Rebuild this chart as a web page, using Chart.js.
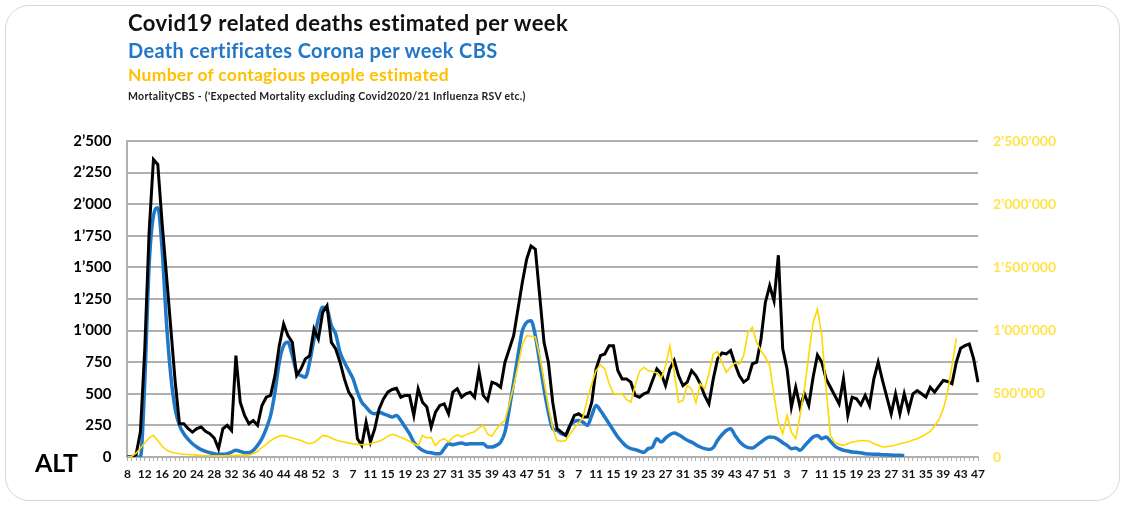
<!DOCTYPE html>
<html>
<head>
<meta charset="utf-8">
<title>Covid19 related deaths estimated per week</title>
<script src="https://cdn.jsdelivr.net/npm/chart.js@4.4.0/dist/chart.umd.min.js"></script>
<style>
  html, body { margin: 0; padding: 0; background: #fff; }
  body { width: 1125px; height: 506px; position: relative; overflow: hidden; font-family: Lato, "Noto Sans", sans-serif; }
  #card { position: absolute; left: 5px; top: 5px; width: 1113px; height: 494px; border: 1.5px solid #d3dbe0; border-radius: 24px; }
  #chartBox { position: absolute; left: 0; top: 0; width: 1125px; height: 506px; }
  .t { position: absolute; left: 128px; white-space: nowrap; font-weight: bold; }
  #t1 { top: 9px; font-size: 22px; letter-spacing: 0.4px; color: #111; }
  #t2 { top: 37.5px; font-size: 20px; letter-spacing: 0.35px; color: #2277c6; }
  #t3 { top: 63.5px; font-size: 17.5px; letter-spacing: 0.27px; color: #ffc000; }
  #t4 { top: 89.5px; font-size: 10.5px; letter-spacing: 0.3px; color: #222; }
  #alt { position: absolute; left: 35px; top: 447px; font-size: 25px; font-weight: bold; color: #000; }
</style>
</head>
<body>
<div id="card"></div>
<div id="chartBox"><canvas id="deathsChart"></canvas></div>
<div class="t" id="t1">Covid19 related deaths estimated per week</div>
<div class="t" id="t2">Death certificates Corona per week CBS</div>
<div class="t" id="t3">Number of contagious people estimated</div>
<div class="t" id="t4">MortalityCBS - ('Expected Mortality excluding Covid2020/21 Influenza RSV etc.)</div>
<div id="alt">ALT</div>
<script>
// week ranges per year: [first week, last week]
const yearWeeks = [[8, 53], [1, 52], [1, 52], [1, 47]];
const weekLabels = [];
yearWeeks.forEach(([a, b]) => { for (let w = a; w <= b; w++) weekLabels.push(String(w)); });

// black: estimated covid19 related deaths per week
const deathsEstimated = [
  0, 0, 20, 200, 850, 1775, 2354, 2315, 1850, 1440,
  1020, 600, 263, 263, 224, 197, 224, 237, 203, 184,
  150, 66, 224, 250, 210, 802, 434, 329, 263, 289,
  250, 408, 473, 487, 644, 881, 1052, 960, 907, 644,
  697, 776, 802, 1012, 934, 1144, 1197, 907, 855, 750,
  618, 513, 460, 145, 92, 276, 118, 224, 381, 460,
  513, 534, 544, 473, 487, 487, 329, 539, 434, 395,
  237, 355, 408, 421, 342, 513, 539, 473, 500, 513,
  473, 684, 487, 447, 592, 579, 552, 750, 855, 960,
  1170, 1381, 1565, 1670, 1644, 1276, 907, 750, 434, 224,
  197, 171, 250, 329, 342, 316, 316, 434, 697, 802,
  815, 881, 881, 684, 618, 618, 592, 487, 473, 500,
  513, 605, 697, 658, 565, 697, 763, 644, 565, 592,
  684, 644, 579, 487, 421, 618, 776, 823, 815, 842,
  736, 644, 592, 618, 736, 750, 934, 1223, 1355, 1236,
  1596, 855, 697, 395, 552, 395, 500, 408, 631, 807,
  750, 618, 552, 487, 421, 618, 329, 473, 460, 413,
  487, 408, 618, 750, 605, 473, 342, 500, 342, 500,
  368, 500, 526, 500, 473, 552, 513, 560, 605, 597,
  579, 750, 860, 881, 894, 776, 592
];

// blue: death certificates corona per week (CBS)
const deathCertificates = [
  0, 0, 0, 0, 592, 1512, 1907, 1972, 1644, 1065,
  644, 381, 250, 184, 139, 105, 79, 58, 45, 34,
  26, 21, 21, 26, 39, 53, 45, 34, 34, 53,
  92, 145, 224, 329, 513, 750, 881, 907, 802, 671,
  644, 631, 750, 934, 1091, 1184, 1170, 1039, 973, 828,
  750, 684, 618, 513, 434, 395, 355, 342, 355, 342,
  329, 316, 329, 289, 237, 184, 118, 79, 53, 39,
  34, 26, 26, 66, 105, 97, 105, 110, 100, 105,
  105, 105, 105, 79, 79, 92, 118, 197, 381, 592,
  802, 999, 1065, 1078, 960, 750, 539, 355, 224, 210,
  184, 176, 250, 281, 289, 276, 250, 329, 408, 368,
  316, 263, 210, 158, 118, 84, 66, 58, 47, 37,
  66, 79, 145, 118, 150, 176, 189, 176, 155, 132,
  118, 97, 79, 66, 60, 74, 132, 176, 210, 224,
  171, 124, 92, 74, 71, 92, 118, 145, 158, 155,
  139, 113, 92, 66, 71, 53, 87, 124, 158, 171,
  145, 158, 124, 87, 66, 53, 47, 39, 37, 34,
  26, 24, 21, 21, 18, 18, 16, 13, 13, 10,
  null, null, null, null, null, null, null, null, null, null,
  null, null, null, null, null, null, null
];

// yellow: estimated number of contagious people (right axis)
const contagiousPeople = [
  0, 5000, 30000, 70000, 110000, 150000, 171000, 130000, 85000, 55000,
  40000, 32000, 26000, 22000, 20000, 18000, 15000, 13000, 12000, 10000,
  10000, 10000, 10000, 12000, 12000, 15000, 14000, 13000, 14000, 25000,
  45000, 75000, 100000, 130000, 150000, 165000, 171000, 160000, 150000, 140000,
  130000, 115000, 105000, 115000, 140000, 171000, 165000, 150000, 135000, 125000,
  118000, 110000, 105000, 100000, 97000, 100000, 105000, 115000, 125000, 140000,
  165000, 180000, 170000, 155000, 140000, 125000, 105000, 90000, 170000, 150000,
  155000, 90000, 130000, 145000, 120000, 155000, 175000, 160000, 175000, 190000,
  200000, 230000, 250000, 180000, 165000, 220000, 260000, 290000, 420000, 560000,
  720000, 890000, 960000, 955000, 950000, 800000, 600000, 400000, 230000, 130000,
  124000, 131000, 184000, 229000, 268000, 316000, 460000, 579000, 684000, 729000,
  697000, 579000, 500000, 500000, 500000, 455000, 434000, 565000, 676000, 710000,
  684000, 676000, 665000, 623000, 720000, 880000, 671000, 434000, 447000, 565000,
  539000, 429000, 579000, 539000, 658000, 815000, 834000, 750000, 671000, 710000,
  744000, 736000, 802000, 986000, 1026000, 907000, 842000, 789000, 723000, 487000,
  276000, 184000, 329000, 197000, 145000, 329000, 539000, 802000, 1065000, 1170000,
  960000, 539000, 171000, 113000, 100000, 92000, 105000, 118000, 124000, 131000,
  129000, 124000, 105000, 92000, 79000, 82000, 87000, 95000, 105000, 113000,
  121000, 134000, 145000, 160000, 181000, 202000, 245000, 297000, 381000, 513000,
  723000, 939000, null, null, null, null, null
];

const leftTicks = [0, 250, 500, 750, 1000, 1250, 1500, 1750, 2000, 2250, 2500];
const rightTicks = [0, 500000, 1000000, 1500000, 2000000, 2500000];

function swissFormat(n) {
  return String(n).replace(/\B(?=(\d{3})+(?!\d))/g, "\u2019");
}

Chart.defaults.font.family = "Lato, 'Noto Sans', sans-serif";
Chart.defaults.color = "#000";

const gridGrey = "#b0b0b0";

new Chart(document.getElementById("deathsChart"), {
  type: "line",
  data: {
    labels: weekLabels,
    datasets: [
      {
        label: "Number of contagious people estimated",
        data: contagiousPeople,
        yAxisID: "y1",
        borderColor: "#ffd800",
        borderWidth: 1.6,
        pointRadius: 0,
        tension: 0,
        order: 0,
      },
      {
        label: "Covid19 related deaths estimated per week",
        data: deathsEstimated,
        yAxisID: "y",
        borderColor: "#000",
        borderWidth: 3,
        pointRadius: 0,
        tension: 0,
        order: 1,
      },
      {
        label: "Death certificates Corona per week CBS",
        data: deathCertificates,
        yAxisID: "y",
        borderColor: "#1f78c8",
        borderWidth: 3.5,
        pointRadius: 0,
        cubicInterpolationMode: "monotone",
        order: 2,
      },
    ],
  },
  options: {
    responsive: true,
    maintainAspectRatio: false,
    animation: false,
    layout: { padding: { top: 141, left: 0, right: 0, bottom: 0 } },
    plugins: { legend: { display: false }, tooltip: { enabled: false } },
    scales: {
      x: {
        offset: false,
        grid: { display: true, drawOnChartArea: false, drawTicks: true, tickLength: 4, color: gridGrey, lineWidth: 1 },
        border: { display: true, color: gridGrey, width: 2 },
        ticks: {
          autoSkip: false,
          maxRotation: 0,
          minRotation: 0,
          padding: 6,
          font: { size: 12, weight: "bold" },
          color: "#111",
          callback: (v, i) => (i % 4 === 0 ? weekLabels[i] : ""),
        },
        afterFit: s => { s.height = 49; },
      },
      y: {
        position: "left",
        min: 0,
        max: 2500,
        afterBuildTicks: s => { s.ticks = leftTicks.map(v => ({ value: v })); },
        grid: { color: gridGrey, lineWidth: 2, drawTicks: false },
        border: { display: true, color: gridGrey, width: 2 },
        ticks: {
          padding: 16,
          font: { size: 15, weight: "bold" },
          color: "#000",
          callback: v => swissFormat(v),
        },
        afterFit: s => { s.width = 127.4; },
      },
      y1: {
        position: "right",
        min: 0,
        max: 2500000,
        afterBuildTicks: s => { s.ticks = rightTicks.map(v => ({ value: v })); },
        grid: { drawOnChartArea: false, drawTicks: false },
        border: { display: false },
        ticks: {
          padding: 15,
          font: { size: 14, weight: "bold" },
          color: "#ffe34d",
          callback: v => swissFormat(v),
        },
        afterFit: s => { s.width = 147; },
      },
    },
  },
});
</script>
</body>
</html>
